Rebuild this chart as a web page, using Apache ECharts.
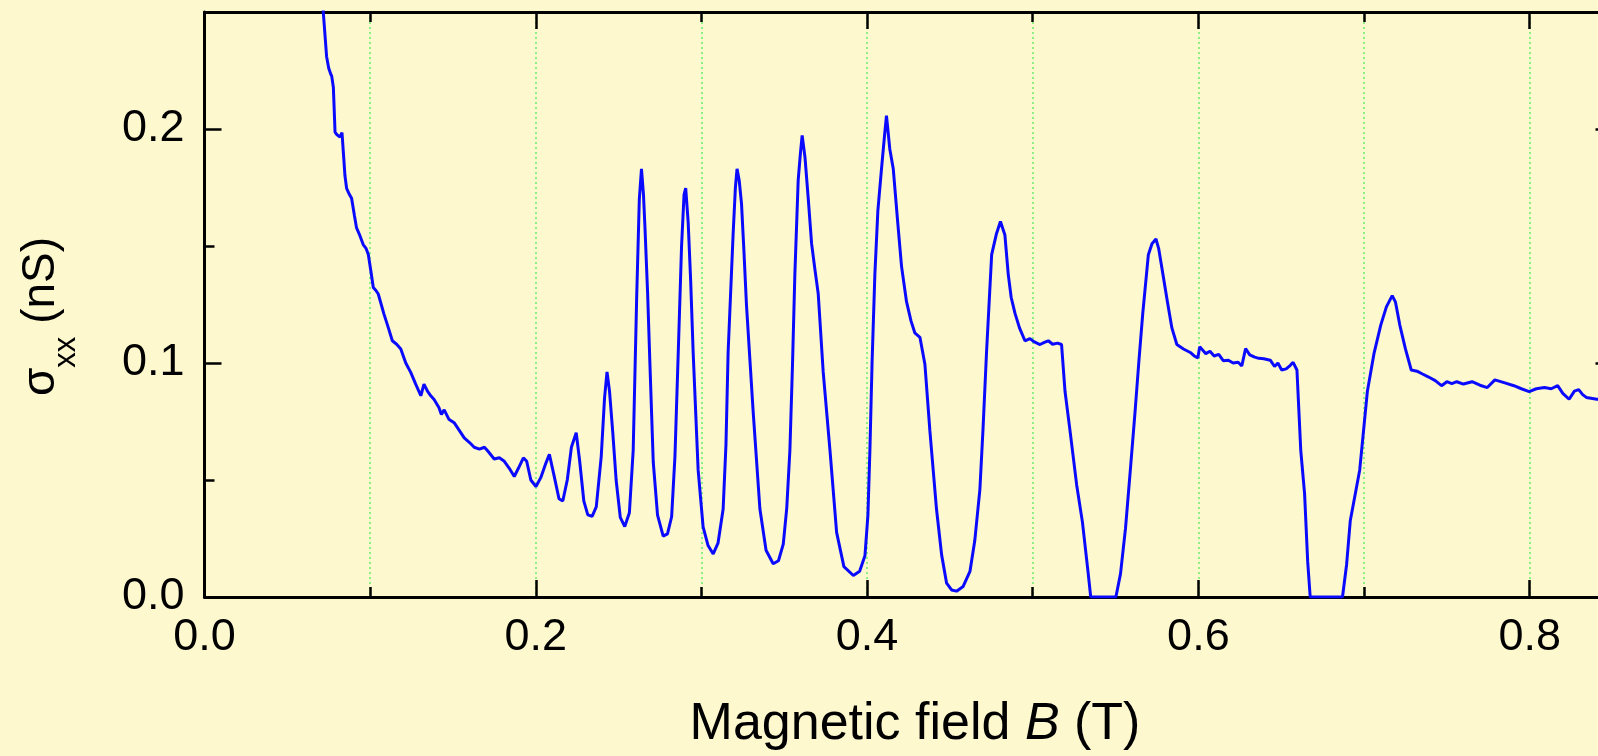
<!DOCTYPE html>
<html>
<head>
<meta charset="utf-8">
<script src="https://cdn.jsdelivr.net/npm/echarts@6/dist/echarts.min.js"></script>
<style>
html,body{margin:0;padding:0;background:#FEF8CF;overflow:hidden;width:1598px;height:756px;}
#c{width:1640px;height:756px;}
</style>
</head>
<body>
<div id="c"></div>
<script>
// Magnetic field B (T)
const fieldB = [
0.0700,0.0717,0.0737,0.0750,0.0762,0.0768,0.0778,0.0788,0.0800,0.0818,0.0830,0.0838,0.0848,0.0858,0.0875,0.0888,0.0905,0.0918,0.0935,0.0958,
0.0975,0.0989,0.1005,0.1019,0.1035,0.1049,0.1083,0.1110,0.1134,0.1160,0.1185,0.1215,0.1245,0.1275,0.1306,0.1325,0.1346,0.1366,0.1386,0.1415,
0.1430,0.1447,0.1475,0.1507,0.1540,0.1568,0.1600,0.1628,0.1660,0.1690,0.1709,0.1749,0.1780,0.1810,0.1840,0.1870,0.1895,0.1925,0.1945,0.1970,
0.2001,0.2030,0.2060,0.2082,0.2110,0.2140,0.2163,0.2190,0.2215,0.2244,0.2265,0.2290,0.2314,0.2340,0.2365,0.2395,0.2415,0.2430,0.2445,0.2465,
0.2485,0.2510,0.2537,0.2565,0.2588,0.2609,0.2625,0.2638,0.2650,0.2659,0.2675,0.2689,0.2709,0.2735,0.2769,0.2795,0.2820,0.2840,0.2860,0.2880,
0.2895,0.2905,0.2920,0.2935,0.2950,0.2980,0.3010,0.3040,0.3071,0.3100,0.3131,0.3148,0.3161,0.3191,0.3205,0.3215,0.3228,0.3242,0.3255,0.3272,
0.3312,0.3353,0.3390,0.3433,0.3465,0.3494,0.3515,0.3534,0.3550,0.3564,0.3584,0.3598,0.3608,0.3625,0.3645,0.3665,0.3685,0.3705,0.3735,0.3776,
0.3816,0.3860,0.3917,0.3955,0.3987,0.4005,0.4017,0.4030,0.4047,0.4065,0.4087,0.4105,0.4117,0.4137,0.4158,0.4185,0.4208,0.4238,0.4265,0.4288,
0.4319,0.4349,0.4379,0.4419,0.4450,0.4480,0.4510,0.4540,0.4580,0.4621,0.4650,0.4681,0.4700,0.4721,0.4752,0.4780,0.4805,0.4815,0.4832,0.4852,
0.4870,0.4893,0.4920,0.4953,0.4983,0.5010,0.5044,0.5070,0.5094,0.5120,0.5150,0.5174,0.5195,0.5225,0.5265,0.5300,0.5335,0.5350,0.5502,0.5530,
0.5560,0.5590,0.5618,0.5640,0.5664,0.5698,0.5720,0.5744,0.5760,0.5778,0.5813,0.5840,0.5870,0.5910,0.5951,0.5975,0.5997,0.6008,0.6020,0.6045,
0.6070,0.6095,0.6123,0.6150,0.6181,0.6210,0.6240,0.6262,0.6285,0.6310,0.6340,0.6365,0.6395,0.6434,0.6460,0.6480,0.6503,0.6530,0.6555,0.6572,
0.6595,0.6618,0.6641,0.6660,0.6675,0.6870,0.6895,0.6917,0.6974,0.7020,0.7060,0.7101,0.7135,0.7170,0.7190,0.7216,0.7250,0.7285,0.7320,0.7353,
0.7390,0.7430,0.7468,0.7500,0.7530,0.7560,0.7600,0.7652,0.7700,0.7744,0.7790,0.7850,0.7905,0.7950,0.7997,0.8040,0.8089,0.8130,0.8169,0.8200,
0.8238,0.8270,0.8296,0.8320,0.8342,0.8406,0.8450,0.8500
];
// sigma_xx (nS)
const sigmaXX = [
0.266,0.250,0.231,0.226,0.2235,0.2226,0.2177,0.1987,0.1975,0.1966,0.1985,0.1979,0.180,0.1746,0.172,0.1704,0.163,0.1577,0.155,0.1506,
0.149,0.1464,0.139,0.1323,0.131,0.1295,0.121,0.115,0.1095,0.108,0.106,0.100,0.096,0.091,0.086,0.091,0.088,0.086,0.0844,0.081,
0.078,0.080,0.076,0.0745,0.071,0.068,0.066,0.064,0.0632,0.064,0.0625,0.059,0.0595,0.058,0.055,0.0515,0.055,0.0595,0.058,0.050,
0.0472,0.051,0.057,0.0610,0.052,0.042,0.041,0.050,0.064,0.0702,0.058,0.041,0.0351,0.0345,0.0385,0.060,0.085,0.0962,0.088,0.070,
0.050,0.034,0.0301,0.036,0.0627,0.128,0.170,0.183,0.172,0.158,0.130,0.0995,0.0577,0.035,0.026,0.027,0.0343,0.060,0.1045,0.150,
0.172,0.1747,0.160,0.135,0.1045,0.0543,0.030,0.022,0.0184,0.023,0.0376,0.065,0.1045,0.1547,0.175,0.183,0.178,0.168,0.150,0.1246,
0.0794,0.0376,0.020,0.0142,0.0155,0.0226,0.038,0.0627,0.100,0.138,0.178,0.190,0.1973,0.188,0.170,0.151,0.140,0.1296,0.0962,0.0627,
0.0276,0.013,0.0092,0.011,0.0176,0.035,0.0627,0.100,0.138,0.165,0.183,0.197,0.2057,0.1915,0.183,0.160,0.1413,0.1262,0.118,0.1129,
0.111,0.0995,0.0711,0.0376,0.018,0.0059,0.0030,0.0025,0.0045,0.0109,0.024,0.046,0.072,0.1045,0.1463,0.155,0.1605,0.1600,0.1547,0.138,
0.128,0.1212,0.115,0.1095,0.1104,0.1090,0.1079,0.1088,0.1095,0.1080,0.1085,0.1079,0.0878,0.0711,0.048,0.032,0.010,0.0,0.0,0.010,
0.0293,0.055,0.0794,0.100,0.121,0.1463,0.151,0.153,0.149,0.1413,0.1262,0.115,0.1079,0.1060,0.1045,0.1030,0.1022,0.1070,0.1070,0.1040,
0.1050,0.1030,0.1037,0.1010,0.1012,0.1000,0.1003,0.0987,0.1062,0.1035,0.1025,0.102,0.1018,0.1012,0.0985,0.1000,0.097,0.0975,0.0990,0.1003,
0.097,0.0627,0.0443,0.015,0.0,0.0,0.014,0.0326,0.0543,0.0878,0.104,0.1162,0.124,0.1288,0.126,0.1162,0.106,0.097,0.0965,0.0953,
0.0940,0.0925,0.0903,0.0920,0.0912,0.0920,0.0910,0.0920,0.0905,0.0895,0.0928,0.0915,0.0903,0.0890,0.0878,0.0890,0.0895,0.0890,0.0903,0.0870,
0.0845,0.0880,0.0886,0.0865,0.0853,0.0845,0.0845,0.0840
];
const xTickLabels = ['0.0','0.2','0.4','0.6','0.8'];
const yTickLabels = ['0.0','0.1','0.2'];

const FONT = "'Liberation Sans', Arial, Helvetica, sans-serif";
const points = fieldB.map((b, i) => [b, sigmaXX[i]]);

function xFmt(v) {
  const s = v.toFixed(1);
  return (Math.abs(v * 5 - Math.round(v * 5)) < 1e-6 && xTickLabels.indexOf(s) >= 0) ? s : '';
}
function yFmt(v) {
  const s = v.toFixed(1);
  return (Math.abs(v * 10 - Math.round(v * 10)) < 1e-6 && yTickLabels.indexOf(s) >= 0) ? s : '';
}

const axisLineStyle = { color: '#000', width: 3 };
const tickStyle = { color: '#000', width: 2.5 };
const gridGreen = { color: '#70EE70', width: 1.6, type: [2, 3] };

const chart = echarts.init(document.getElementById('c'), null, { renderer: 'canvas' });
chart.setOption({
  backgroundColor: '#FEF8CF',
  animation: false,
  grid: { left: 204.5, top: 12, right: 27.5, bottom: 153.5, containLabel: false },
  xAxis: [
    {
      type: 'value', position: 'bottom', min: 0, max: 0.85, interval: 0.2,
      axisLine: { show: true, onZero: false, lineStyle: axisLineStyle },
      axisTick: { show: true, inside: true, length: 17, lineStyle: tickStyle },
      axisLabel: { show: true, margin: 18, fontSize: 45, fontFamily: FONT, color: '#000', formatter: xFmt },
      splitLine: { show: false },
      name: '{a|Magnetic field }{i|B}{a| (T)}',
      nameLocation: 'middle', nameGap: 102,
      nameTextStyle: {
        padding: [0, 0, 0, 13],
        rich: {
          a: { fontSize: 52, fontFamily: FONT, color: '#000' },
          i: { fontSize: 52, fontFamily: FONT, fontStyle: 'italic', color: '#000' }
        }
      }
    },
    {
      type: 'value', position: 'bottom', min: 0, max: 0.85, interval: 0.1,
      axisLine: { show: false, onZero: false },
      axisTick: { show: true, inside: true, length: 10, lineStyle: tickStyle },
      axisLabel: { show: false },
      splitLine: { show: true, lineStyle: gridGreen }
    },
    {
      type: 'value', position: 'top', min: 0, max: 0.85, interval: 0.2,
      axisLine: { show: true, onZero: false, lineStyle: axisLineStyle },
      axisTick: { show: true, inside: true, length: 17, lineStyle: tickStyle },
      axisLabel: { show: false }, splitLine: { show: false }
    },
    {
      type: 'value', position: 'top', min: 0, max: 0.85, interval: 0.1,
      axisLine: { show: false, onZero: false },
      axisTick: { show: true, inside: true, length: 10, lineStyle: tickStyle },
      axisLabel: { show: false }, splitLine: { show: false }
    }
  ],
  yAxis: [
    {
      type: 'value', position: 'left', min: 0, max: 0.25, interval: 0.1,
      axisLine: { show: true, onZero: false, lineStyle: axisLineStyle },
      axisTick: { show: true, inside: true, length: 17, lineStyle: tickStyle },
      axisLabel: { show: true, margin: 20, fontSize: 45, fontFamily: FONT, color: '#000', formatter: yFmt },
      splitLine: { show: false },
      name: '{a|σ}{b|xx}{a| (nS)}',
      nameLocation: 'middle', nameGap: 136,
      nameTextStyle: {
        padding: [0, 24, 0, 0],
        rich: {
          a: { fontSize: 46, fontFamily: FONT, color: '#000', verticalAlign: 'top', lineHeight: 50 },
          b: { fontSize: 31, fontFamily: FONT, color: '#000', verticalAlign: 'top', lineHeight: 31, padding: [32, 0, 0, 0] }
        }
      }
    },
    {
      type: 'value', position: 'left', min: 0, max: 0.25, interval: 0.05,
      axisLine: { show: false, onZero: false },
      axisTick: { show: true, inside: true, length: 10, lineStyle: tickStyle },
      axisLabel: { show: false }, splitLine: { show: false }
    },
    {
      type: 'value', position: 'right', min: 0, max: 0.25, interval: 0.1,
      axisLine: { show: true, onZero: false, lineStyle: axisLineStyle },
      axisTick: { show: true, inside: true, length: 17, lineStyle: tickStyle },
      axisLabel: { show: false }, splitLine: { show: false }
    },
    {
      type: 'value', position: 'right', min: 0, max: 0.25, interval: 0.05,
      axisLine: { show: false, onZero: false },
      axisTick: { show: true, inside: true, length: 10, lineStyle: tickStyle },
      axisLabel: { show: false }, splitLine: { show: false }
    }
  ],
  series: [{
    type: 'line', xAxisIndex: 0, yAxisIndex: 0,
    data: points, showSymbol: false, symbol: 'none', smooth: false,
    lineStyle: { color: '#0A0AFF', width: 3 },
    clip: true, z: 5
  }]
});
</script>
</body>
</html>
